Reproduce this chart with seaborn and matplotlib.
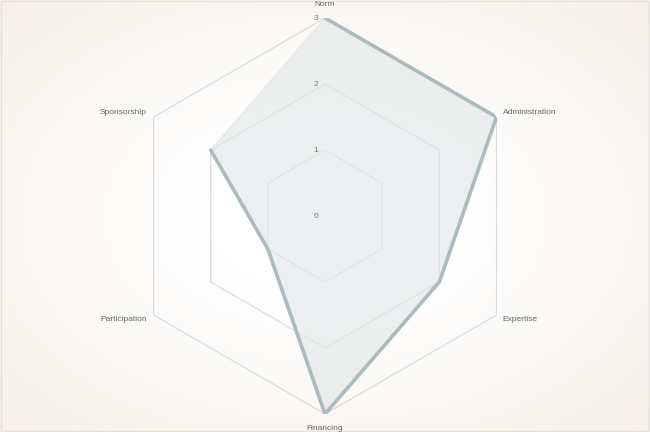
import numpy as np
import pandas as pd
import matplotlib
matplotlib.use("Agg")
import matplotlib.pyplot as plt
import seaborn as sns

categories = ["Norm", "Administration", "Expertise", "Financing", "Participation", "Sponsorship"]
values = [3, 3, 2, 3, 1, 2]
levels = [1, 2, 3]
tick_labels = ["0", "1", "2", "3"]

sns.set_theme(style="white")
plt.rcParams["font.family"] = ["Liberation Sans", "DejaVu Sans"]

W, H, DPI = 650, 432, 100
fig = plt.figure(figsize=(W / DPI, H / DPI), dpi=DPI)

# background radial gradient
bg = fig.add_axes([0, 0, 1, 1])
yy, xx = np.mgrid[0:H, 0:W]
d = np.sqrt(((xx - W / 2) / (W / 2)) ** 2 + ((yy - H / 2) / (H / 2)) ** 2) / np.sqrt(2)
t = np.clip((d - 0.25) / 0.75, 0, 1) ** 1.2
c0 = np.array([1.0, 1.0, 1.0])
c1 = np.array([245, 239, 232]) / 255
img = c0[None, None, :] * (1 - t[..., None]) + c1[None, None, :] * t[..., None]
bg.imshow(img, extent=[0, W, H, 0], aspect="auto")
bg.set_xlim(0, W)
bg.set_ylim(H, 0)
bg.axis("off")
bg.add_patch(plt.Rectangle((0.5, 0.5), W - 1.5, H - 1.5, fill=False, ec="#e4e1de", lw=1))

# polar axes
R = 198
cx, cy = 325, 216
ax = fig.add_axes([(cx - R) / W, (H - cy - R) / H, 2 * R / W, 2 * R / H], projection="polar")
ax.set_facecolor("none")
ax.set_theta_offset(np.pi / 2)
ax.set_theta_direction(-1)
ax.set_ylim(0, 3)
ax.grid(False)
ax.spines["polar"].set_visible(False)
ax.set_xticks([])
ax.set_yticks([])

n = len(categories)
angles = np.linspace(0, 2 * np.pi, n, endpoint=False)
ang_closed = np.append(angles, angles[0])

# hexagonal grid
for lv in levels:
    ax.plot(ang_closed, [lv] * (n + 1), color="#d9d9d9", lw=0.8, zorder=1)

df = pd.DataFrame({"theta": ang_closed, "r": values + [values[0]]})
ax.fill(df["theta"], df["r"], color="#e3e7e8", alpha=0.65, zorder=2)
sns.lineplot(data=df, x="theta", y="r", sort=False, ax=ax, color="#adbbbf", lw=2.6, zorder=3)
ax.set_xlabel("")
ax.set_ylabel("")

# radial tick labels
for i, lab in enumerate(tick_labels):
    ax.annotate(lab, xy=(0, i), xytext=(-6.5, 0), textcoords="offset points",
                ha="center", va="center", fontsize=6, color="#777777", zorder=5)

# category labels
offsets = {
    "Norm": ((0, 9.5), "center", "center"),
    "Administration": ((4.5, 3.5), "left", "center"),
    "Expertise": ((4.5, -3), "left", "center"),
    "Financing": ((0, -10.5), "center", "center"),
    "Participation": ((-4.5, -3), "right", "center"),
    "Sponsorship": ((-5, 3.5), "right", "center"),
}
for a, cat in zip(angles, categories):
    off, ha, va = offsets[cat]
    ax.annotate(cat, xy=(a, 3), xytext=off, textcoords="offset points",
                ha=ha, va=va, fontsize=6, color="#666666", annotation_clip=False, zorder=5)

fig.savefig("out.png", dpi=DPI)
